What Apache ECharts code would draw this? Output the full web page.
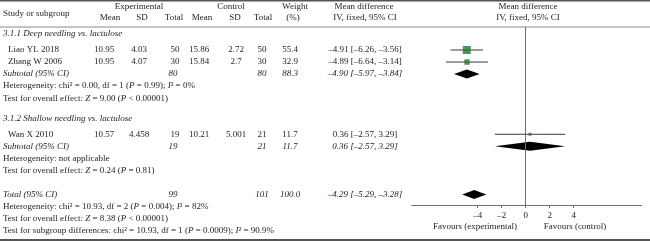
<!DOCTYPE html>
<html>
<head>
<meta charset="utf-8">
<script src="https://cdn.jsdelivr.net/npm/echarts@6/dist/echarts.min.js"></script>
<style>
html, body { margin: 0; padding: 0; background: #fff; }
#main { width: 650px; height: 241px; }
</style>
</head>
<body>
<div id="main"></div>
<script>
// single studies
var studyNames = ['Liao YL 2018', 'Zhang W 2006', 'Wan X 2010'];
var studyRows = [0, 1, 7];
var expMean = ['10.95', '10.95', '10.57'];
var expSD = ['4.03', '4.07', '4.458'];
var expTotal = ['50', '30', '19'];
var ctlMean = ['15.86', '15.84', '10.21'];
var ctlSD = ['2.72', '2.7', '5.001'];
var ctlTotal = ['50', '30', '21'];
var weights = [55.4, 32.9, 11.7];
var md = [-4.91, -4.89, 0.36];
var ciLow = [-6.26, -6.64, -2.57];
var ciHigh = [-3.56, -3.14, 3.29];

// subtotals and total
var poolNames = ['Subtotal (95% CI)', 'Subtotal (95% CI)', 'Total (95% CI)'];
var poolRows = [2, 8, 12];
var poolExpTotal = ['80', '19', '99'];
var poolCtlTotal = ['80', '21', '101'];
var poolWeights = ['88.3', '11.7', '100.0'];
var poolMd = [-4.90, 0.36, -4.29];
var poolLow = [-5.97, -2.57, -5.29];
var poolHigh = [-3.84, 3.29, -3.28];

var sections = ['3.1.1 Deep needling vs. lactulose', '3.1.2 Shallow needling vs. lactulose'];
var sectionRows = [-1.33, 5.67];

// stats lines, *x* = italic
var statTexts = [
    'Heterogeneity: chi² = 0.00, df = 1 (*P* = 0.99); *I*² = 0%',
    'Test for overall effect: *Z* = 9.00 (*P* < 0.00001)',
    'Heterogeneity: not applicable',
    'Test for overall effect: *Z* = 0.24 (*P* = 0.81)',
    'Heterogeneity: chi² = 10.93, df = 2 (*P* = 0.004); *I*² = 82%',
    'Test for overall effect: *Z* = 8.38 (*P* < 0.00001)',
    'Test for subgroup differences: chi² = 10.93, df = 1 (*P* = 0.0009); *I*² = 90.9%'
];
var statRows = [3, 4, 9, 10, 13, 14, 15];

var tickValues = [-4, -2, 0, 2, 4];

var FONT = '"Liberation Serif", "Times New Roman", serif';
var INK = '#1e1e1e';
var LINE = '#6f6f6f';

var chart = echarts.init(document.getElementById('main'));

var dash = function(v){ return String(v).replace(/-/g, '\u2013'); };
var fmt2 = function(v){ return dash(v.toFixed(2)); };
var ciText = function(m, lo, hi){ return fmt2(m) + ' [' + fmt2(lo) + ', ' + fmt2(hi) + ']'; };

var option = {
    animation: false,
    grid: { left: 411.7, top: 27, width: 230, height: 178 },
    xAxis: {
        type: 'value', min: -9.5, max: 9.67,
        axisLine: { onZero: false, lineStyle: { color: LINE, width: 1 } },
        axisTick: { customValues: tickValues, length: 3, lineStyle: { color: LINE } },
        axisLabel: { customValues: tickValues, formatter: dash, fontFamily: FONT, fontSize: 9, color: INK, margin: 6 },
        splitLine: { show: false }
    },
    yAxis: { type: 'value', inverse: true, min: -1.91, max: 12.874, show: false },
    series: [
        {
            type: 'custom', z: 1,
            data: [],
            renderItem: function(){ return null; },
            markLine: {
                silent: true, symbol: ['none', 'none'], label: { show: false },
                lineStyle: { color: LINE, type: 'solid', width: 1 },
                data: [{ xAxis: 0 }]
            }
        },
        {
            type: 'custom', z: 2,
            data: studyRows.map(function(r, i){ return [ciLow[i], ciHigh[i], r]; }),
            encode: { x: [0, 1], y: 2 },
            renderItem: function(params, api){
                var a = api.coord([api.value(0), api.value(2)]);
                var b = api.coord([api.value(1), api.value(2)]);
                return { type: 'line', shape: { x1: a[0], y1: a[1], x2: b[0], y2: b[1] },
                    style: { stroke: '#3a3a3a', lineWidth: 1 } };
            }
        },
        {
            type: 'scatter', z: 3, symbol: 'rect',
            data: studyRows.map(function(r, i){ return [md[i], r, weights[i]]; }),
            symbolSize: function(v){ return 1.66 + v[2] * 0.1144; },
            itemStyle: { color: '#1b7a25' }
        },
        {
            type: 'custom', z: 4,
            data: poolRows.map(function(r, i){ return [poolLow[i], poolMd[i], poolHigh[i], r]; }),
            encode: { x: [0, 2], y: 3 },
            renderItem: function(params, api){
                var y = api.value(3);
                var l = api.coord([api.value(0), y]);
                var c = api.coord([api.value(1), y]);
                var h = api.coord([api.value(2), y]);
                return { type: 'polygon',
                    shape: { points: [[l[0], l[1]], [c[0], c[1] - 4.5], [h[0], h[1]], [c[0], c[1] + 4.5]] },
                    style: { fill: '#000' } };
            }
        }
    ]
};
chart.setOption(option);

// table text
var rowY = function(r){ return chart.convertToPixel({ yAxisIndex: 0 }, r); };
var els = [];
var txt = function(s, x, y, align, italic){
    els.push({ type: 'text', x: x, y: y, silent: true,
        style: { text: s, font: (italic ? 'italic ' : '') + '9px ' + FONT, fill: INK,
            align: align || 'left', verticalAlign: 'middle',
            textAlign: align || 'left', textVerticalAlign: 'middle' } });
};
var richTxt = function(s, x, y){
    var parts = s.split('*');
    var out = parts.map(function(p, k){
        if (!p) return '';
        return '{' + (k % 2 ? 'i' : 'n') + '|' + p + '}';
    }).join('');
    els.push({ type: 'text', x: x, y: y, silent: true,
        style: { text: out, font: '9px ' + FONT, fill: INK,
            align: 'left', verticalAlign: 'middle', textAlign: 'left', textVerticalAlign: 'middle',
            rich: { n: { font: '9px ' + FONT, fill: INK }, i: { font: 'italic 9px ' + FONT, fill: INK } } } });
};

// header
txt('Study or subgroup', 3, 14);
txt('Experimental', 139, 7, 'center');
txt('Control', 231, 7, 'center');
txt('Mean', 110, 18, 'center');
txt('SD', 142, 18, 'center');
txt('Total', 174, 18, 'center');
txt('Mean', 202, 18, 'center');
txt('SD', 235, 18, 'center');
txt('Total', 263, 18, 'center');
txt('Weight', 295, 6.5, 'center');
txt('(%)', 293, 18, 'center');
txt('Mean difference', 364, 7, 'center');
txt('IV, fixed, 95% CI', 365, 18, 'center');
txt('Mean difference', 528, 7, 'center');
txt('IV, fixed, 95% CI', 528, 18, 'center');

sections.forEach(function(s, i){ txt(s, 3, rowY(sectionRows[i]), 'left', true); });

studyRows.forEach(function(r, i){
    var y = rowY(r);
    txt(studyNames[i], 8, y);
    txt(expMean[i], 104, y, 'center');
    txt(expSD[i], 139, y, 'center');
    txt(expTotal[i], 175, y, 'center');
    txt(ctlMean[i], 199, y, 'center');
    txt(ctlSD[i], 236, y, 'center');
    txt(ctlTotal[i], 262, y, 'center');
    txt(weights[i].toFixed(1), 290, y, 'center');
    txt(ciText(md[i], ciLow[i], ciHigh[i]), 365, y, 'center');
});

poolRows.forEach(function(r, i){
    var y = rowY(r);
    txt(poolNames[i], 3, y, 'left', true);
    txt(poolExpTotal[i], 173, y, 'center', true);
    txt(poolCtlTotal[i], 262, y, 'center', true);
    txt(poolWeights[i], 290, y, 'center', true);
    txt(ciText(poolMd[i], poolLow[i], poolHigh[i]), 365, y, 'center', true);
});

statRows.forEach(function(r, i){ richTxt(statTexts[i], 3, rowY(r)); });

txt('Favours (experimental)', 475, 227, 'center');
txt('Favours (control)', 575, 227, 'center');

// rules
els.push({ type: 'rect', silent: true, shape: { x: 0, y: 0, width: 650, height: 1.5 }, style: { fill: '#555' } });
els.push({ type: 'rect', silent: true, shape: { x: 0, y: 26.5, width: 650, height: 1 }, style: { fill: '#8a8a8a' } });
els.push({ type: 'rect', silent: true, shape: { x: 0, y: 239, width: 650, height: 2 }, style: { fill: '#555' } });

chart.setOption({ graphic: { elements: els } });
</script>
</body>
</html>
